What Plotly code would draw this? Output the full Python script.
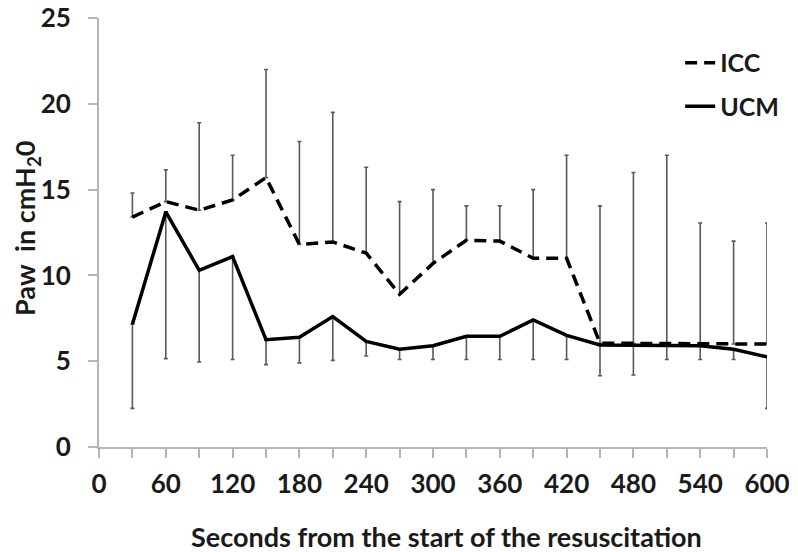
import plotly.graph_objects as go

seconds = [30, 60, 90, 120, 150, 180, 210, 240, 270, 300,
           330, 360, 390, 420, 450, 480, 510, 540, 570, 600]

icc_mean = [13.4, 14.3, 13.8, 14.4, 15.7, 11.8, 11.95, 11.3, 8.9, 10.7,
            12.05, 12.0, 11.0, 11.0, 6.05, 6.05, 6.05, 6.05, 6.0, 6.0]
icc_upper = [14.8, 16.15, 18.9, 17.0, 22.0, 17.8, 19.5, 16.3, 14.3, 15.0,
             14.05, 14.05, 15.0, 17.0, 14.05, 16.0, 17.0, 13.05, 12.0, 13.05]

ucm_mean = [7.15, 13.7, 10.3, 11.1, 6.25, 6.4, 7.6, 6.15, 5.7, 5.9,
            6.45, 6.45, 7.4, 6.5, 5.95, 5.95, 5.95, 5.9, 5.7, 5.25]
ucm_lower = [2.25, 5.15, 4.95, 5.1, 4.8, 4.9, 5.05, 5.3, 5.1, 5.1,
             5.1, 5.1, 5.1, 5.1, 4.15, 4.2, 5.1, 5.1, 5.1, 2.25]

font_family = "Lato, 'Open Sans', sans-serif"
bar_color = "#5a5a5a"
axis_color = "#b5b5b5"

fig = go.Figure()

# error bars first so the lines sit on top of them
fig.add_trace(go.Scatter(
    x=seconds, y=icc_mean, mode="markers", marker=dict(size=0.1, color="rgba(0,0,0,0)"),
    showlegend=False, hoverinfo="skip",
    error_y=dict(type="data", symmetric=False,
                 array=[u - m for u, m in zip(icc_upper, icc_mean)],
                 arrayminus=[0] * len(seconds),
                 color=bar_color, thickness=1.6, width=2),
))
fig.add_trace(go.Scatter(
    x=seconds, y=ucm_mean, mode="markers", marker=dict(size=0.1, color="rgba(0,0,0,0)"),
    showlegend=False, hoverinfo="skip",
    error_y=dict(type="data", symmetric=False,
                 array=[0] * len(seconds),
                 arrayminus=[m - l for m, l in zip(ucm_mean, ucm_lower)],
                 color=bar_color, thickness=1.6, width=2),
))

fig.add_trace(go.Scatter(
    x=seconds, y=icc_mean, mode="lines", name="ICC", legendgroup="icc",
    line=dict(color="black", width=3.5, dash="12px,7px"),
))
fig.add_trace(go.Scatter(
    x=seconds, y=ucm_mean, mode="lines", name="UCM", legendgroup="ucm",
    line=dict(color="black", width=3.5),
))

tick_font = dict(size=26, family=font_family, weight="bold", color="#1a1a1a")
title_font = dict(size=27, family=font_family, weight="bold", color="#1a1a1a")

# the page body adds an 8px offset, so the figure is sized 8px smaller
fig.update_layout(
    width=790, height=544,
    margin=dict(l=91, r=31, t=10, b=105),
    paper_bgcolor="white", plot_bgcolor="white",
    font=dict(family=font_family, size=20, color="#1a1a1a"),
    showlegend=True,
    legend=dict(x=0.870, y=0.949, xanchor="left", yanchor="top",
                bgcolor="rgba(0,0,0,0)", tracegroupgap=8,
                font=dict(size=25, family=font_family, weight="bold", color="#1a1a1a"),
                itemwidth=30),
    xaxis=dict(
        range=[0, 600], dtick=60, tick0=0, automargin=False,
        showgrid=False, zeroline=False, showline=True, linecolor=axis_color, linewidth=2,
        ticks="outside", ticklen=9, tickwidth=1.5, tickcolor=axis_color,
        minor=dict(dtick=30, ticks="outside", ticklen=9, tickwidth=1.5, tickcolor=axis_color),
        tickfont=tick_font, ticklabelstandoff=4, ticklabeloverflow="allow",
    ),
    yaxis=dict(
        range=[0, 25], dtick=5, automargin=False,
        showgrid=False, zeroline=False, showline=True, linecolor=axis_color, linewidth=2,
        ticks="outside", ticklen=9, tickwidth=1.5, tickcolor=axis_color,
        tickfont=tick_font, ticklabelstandoff=12, ticklabeloverflow="allow",
    ),
    annotations=[
        dict(text="Seconds from the start of the resuscitation", font=title_font,
             xref="paper", yref="paper", x=(446 - 99) / 668, y=-(536 - 447) / 429,
             xanchor="center", yanchor="middle", showarrow=False),
        dict(text="Paw  in cmH<sub>2</sub>0", font=title_font, textangle=-90,
             xref="paper", yref="paper", x=(27 - 99) / 668, y=(447 - 228) / 429,
             xanchor="center", yanchor="middle", showarrow=False),
    ],
)

fig.write_html("out.html")
